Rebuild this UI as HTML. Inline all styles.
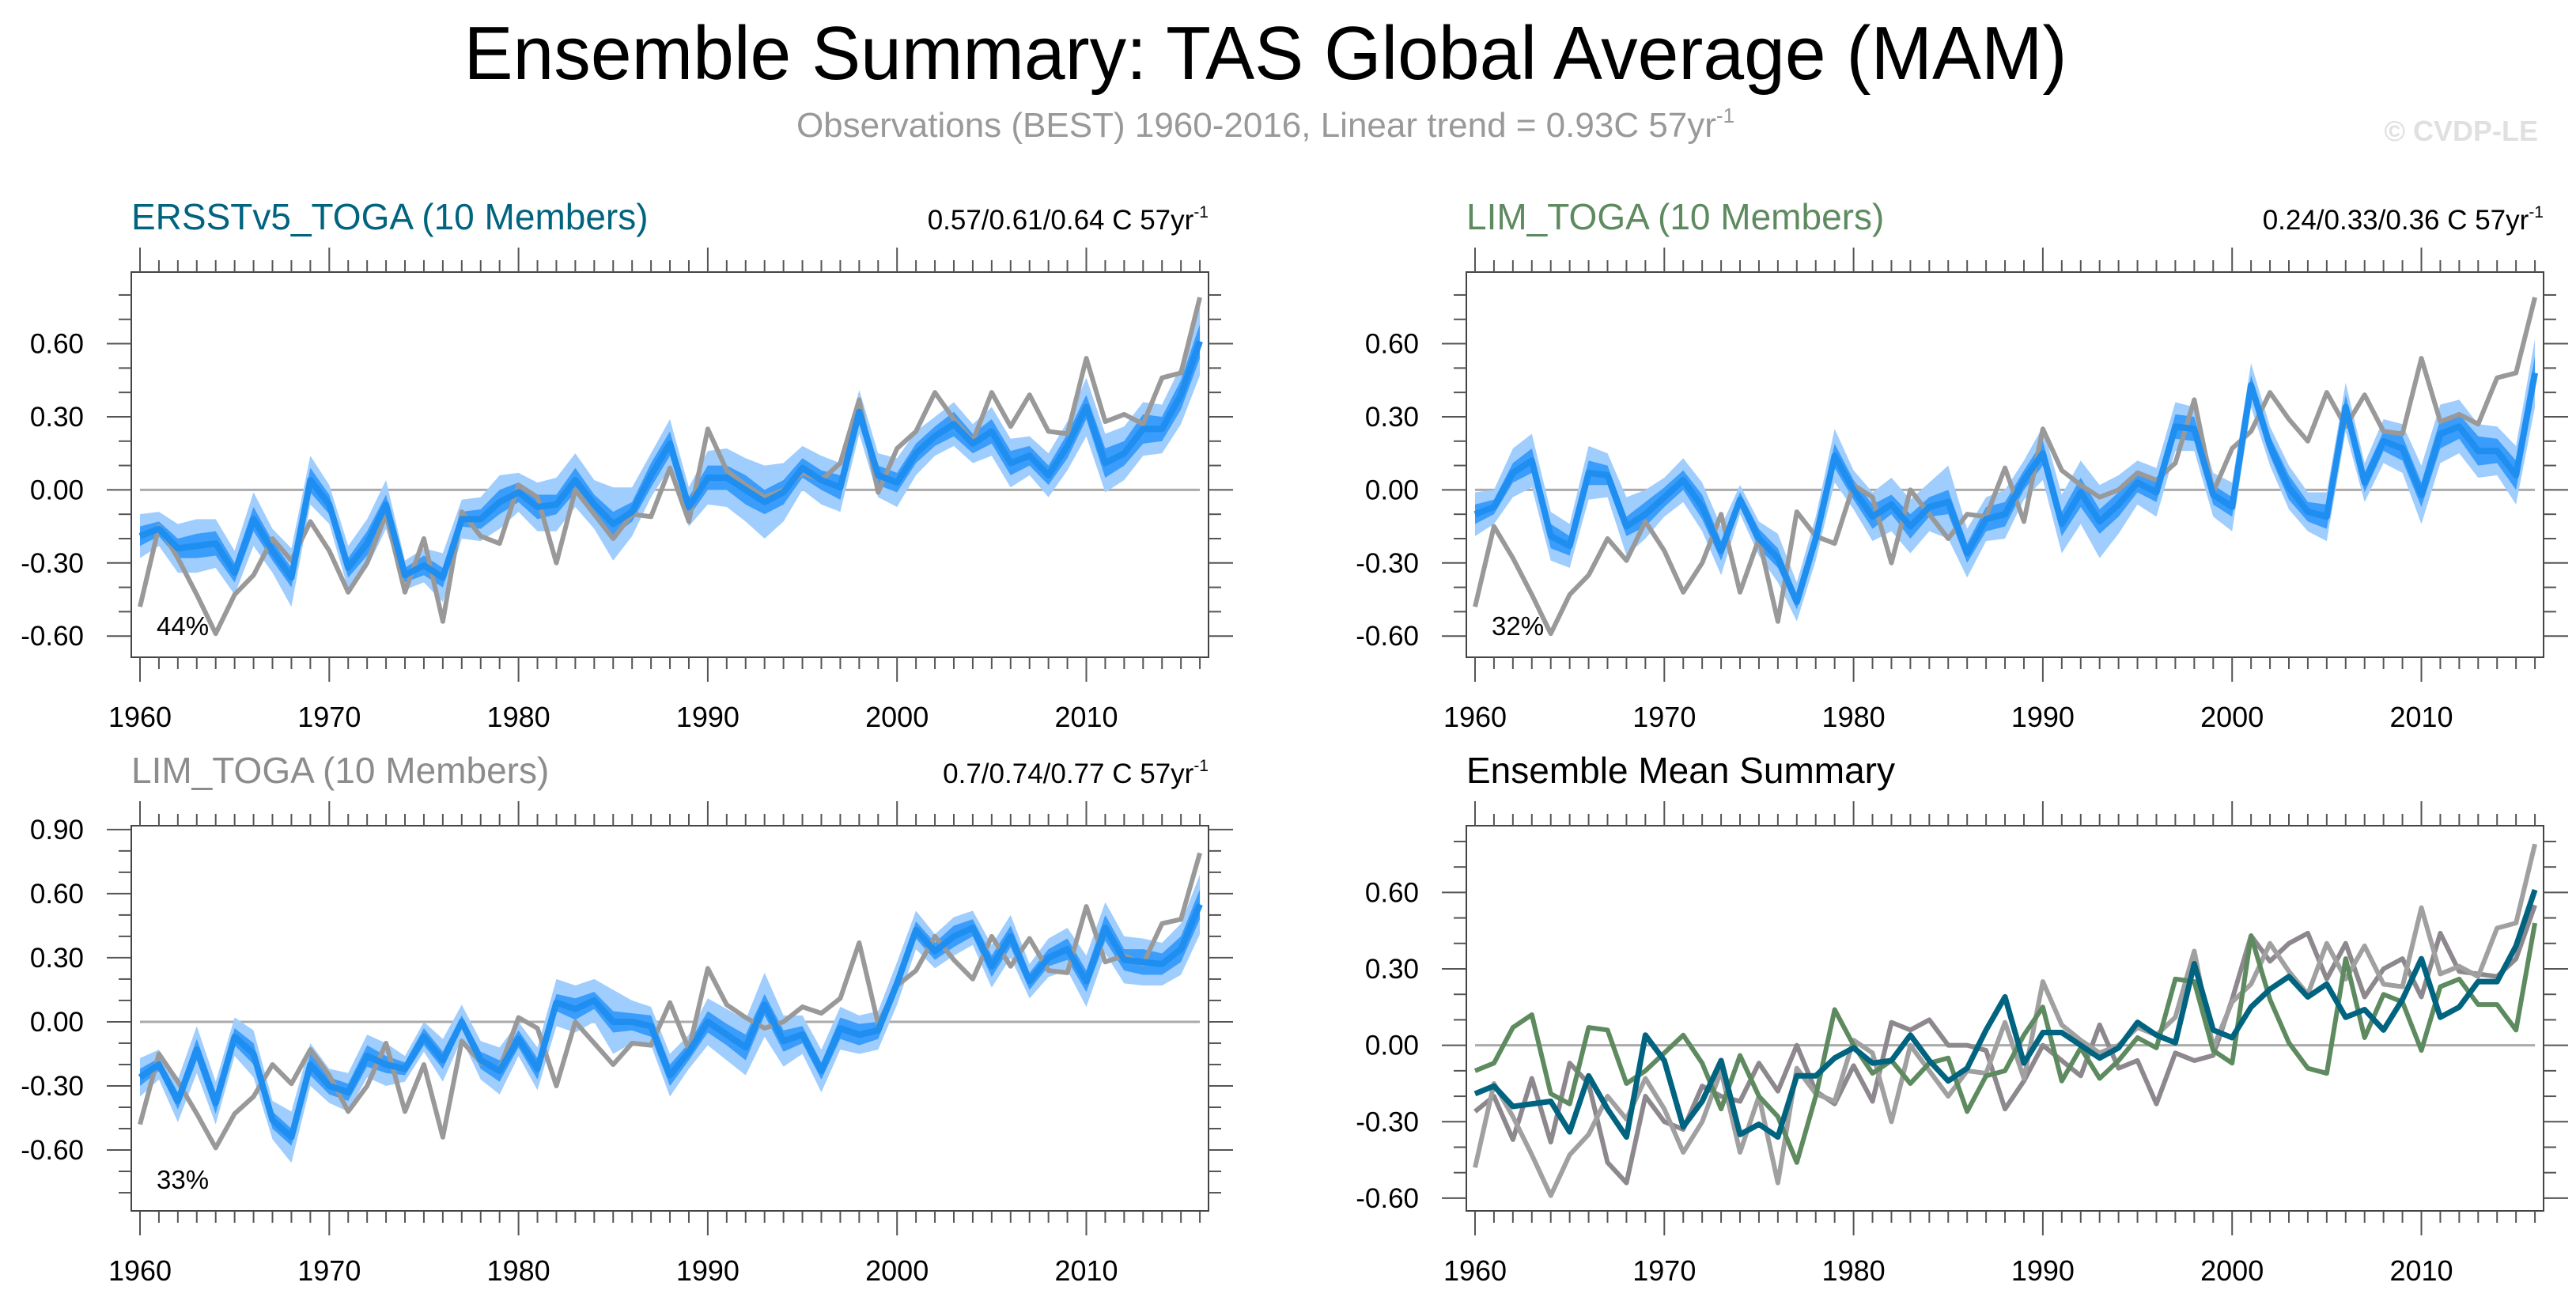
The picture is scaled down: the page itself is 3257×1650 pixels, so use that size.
<!DOCTYPE html>
<html><head><meta charset="utf-8">
<style>
html,body{margin:0;padding:0;background:#fff;}
svg{display:block;font-family:"Liberation Sans",Arial,sans-serif;}
</style></head>
<body>
<svg id="fig" width="3257" height="1650" viewBox="0 0 3257 1650" xmlns="http://www.w3.org/2000/svg">
<rect width="3257" height="1650" fill="#fff"/>
<text x="1600" y="100" font-size="96" text-anchor="middle" textLength="2027" lengthAdjust="spacingAndGlyphs" fill="#000">Ensemble Summary: TAS Global Average (MAM)</text>
<text x="1600" y="173" font-size="44" text-anchor="middle" fill="#999">Observations (BEST) 1960-2016, Linear trend = 0.93C 57yr<tspan font-size="26" dy="-18">-1</tspan></text>
<text x="3209" y="178" font-size="36" font-weight="bold" text-anchor="end" fill="#e0e0e0">© CVDP-LE</text>
<g id="panels"></g>
</svg>
<script>
// ---- data ----
const startYear = 1960;
const endYear = 2016;
const obsValues = [-0.48,-0.15,-0.28,-0.43,-0.59,-0.43,-0.35,-0.20,-0.29,-0.13,-0.25,-0.42,-0.30,-0.10,-0.42,-0.20,-0.54,-0.09,-0.19,-0.22,0.02,-0.03,-0.30,0.00,-0.10,-0.20,-0.10,-0.11,0.09,-0.13,0.25,0.08,0.02,-0.03,0.00,0.07,0.04,0.11,0.37,-0.01,0.17,0.24,0.40,0.29,0.20,0.40,0.26,0.39,0.24,0.23,0.54,0.28,0.31,0.27,0.46,0.48,0.79];
const ersstMean = [-0.19,-0.16,-0.24,-0.23,-0.22,-0.34,-0.12,-0.25,-0.36,0.04,-0.06,-0.32,-0.22,-0.06,-0.35,-0.31,-0.36,-0.12,-0.12,-0.05,-0.01,-0.07,-0.06,0.04,-0.06,-0.14,-0.09,0.06,0.19,-0.07,0.05,0.05,0.00,-0.05,-0.01,0.09,0.04,0.01,0.32,0.06,0.03,0.15,0.22,0.27,0.19,0.24,0.11,0.14,0.06,0.18,0.34,0.11,0.15,0.25,0.25,0.39,0.61];
const limMean = [-0.10,-0.07,0.07,0.12,-0.19,-0.23,0.07,0.06,-0.15,-0.10,-0.03,0.04,-0.07,-0.25,-0.04,-0.20,-0.28,-0.46,-0.20,0.14,0.00,-0.11,-0.06,-0.15,-0.07,-0.05,-0.26,-0.12,-0.10,0.04,0.15,-0.14,-0.01,-0.13,-0.06,0.03,-0.01,0.26,0.25,-0.02,-0.07,0.43,0.18,0.01,-0.09,-0.11,0.34,0.03,0.20,0.17,-0.02,0.23,0.26,0.16,0.16,0.06,0.48];
const lim2Mean = [-0.26,-0.20,-0.37,-0.13,-0.38,-0.07,-0.15,-0.46,-0.54,-0.20,-0.30,-0.33,-0.16,-0.20,-0.22,-0.07,-0.18,0.00,-0.18,-0.23,-0.08,-0.22,0.09,0.06,0.10,0.00,0.00,-0.02,-0.25,-0.14,0.00,-0.06,-0.12,0.08,-0.09,-0.06,-0.23,-0.03,-0.06,-0.04,0.18,0.43,0.33,0.40,0.44,0.26,0.40,0.19,0.30,0.34,0.19,0.44,0.29,0.28,0.27,0.34,0.55];
const innerSpread = [0.04,0.03,0.04,0.05,0.05,0.04,0.05,0.04,0.04,0.05,0.04,0.04,0.05,0.04,0.03,0.04,0.04,0.03,0.04,0.05,0.04,0.05,0.04,0.05,0.04,0.05,0.04,0.05,0.05,0.04,0.05,0.05,0.06,0.05,0.05,0.04,0.04,0.05,0.05,0.04,0.04,0.04,0.04,0.05,0.04,0.05,0.05,0.04,0.04,0.05,0.05,0.06,0.05,0.06,0.05,0.06,0.07];
const outerSpread = [0.09,0.07,0.10,0.11,0.10,0.09,0.11,0.09,0.12,0.10,0.08,0.09,0.10,0.10,0.06,0.07,0.10,0.08,0.09,0.11,0.08,0.10,0.11,0.11,0.10,0.15,0.10,0.09,0.10,0.08,0.11,0.12,0.13,0.15,0.12,0.09,0.10,0.10,0.09,0.09,0.10,0.09,0.08,0.09,0.08,0.10,0.10,0.08,0.09,0.10,0.12,0.12,0.11,0.11,0.10,0.12,0.14];
const ersstTicks = [-0.60,-0.30,0.00,0.30,0.60];
const limTicks = [-0.60,-0.30,0.00,0.30,0.60];
const lim2Ticks = [-0.60,-0.30,0.00,0.30,0.60,0.90];
const summaryTicks = [-0.60,-0.30,0.00,0.30,0.60];
const yearTicks = [1960,1970,1980,1990,2000,2010];

// ---- layout ----
const NS = "http://www.w3.org/2000/svg";
const root = document.getElementById('panels');
function el(tag, attrs, parent){
  const e = document.createElementNS(NS, tag);
  for (const k in attrs) e.setAttribute(k, attrs[k]);
  (parent||root).appendChild(e);
  return e;
}
const BW = 1362, BH = 487;
function years(){ const a=[]; for(let y=startYear;y<=endYear;y++) a.push(y); return a; }
const yrs = years();

function drawPanel(p){
  const g = el('g', {});
  
  
  const xs = yr => p.bx + 11 + (yr - startYear) * 23.93;
  const ys = v => p.by + (p.ymax - v) / (p.ymax - p.ymin) * BH;
  const t = el('text', {x:p.bx, y:p.by-54, 'font-size':46, fill:p.titleColor}, g);
  t.textContent = p.title;
  
  
  if (p.trend){
    const tr = el('text', {x:p.bx+BW, y:p.by-54, 'font-size':35, 'text-anchor':'end', fill:'#000'}, g);
    tr.textContent = p.trend;
    const sup = el('tspan', {'font-size':21, dy:-15}, tr);
    sup.textContent = '-1';
    
    
  }
  function band(spread, color, nm){
    const pts = [];
    yrs.forEach((y,i)=>pts.push(xs(y)+','+ys(p.mean[i]+spread[i])));
    for (let i=yrs.length-1;i>=0;i--) pts.push(xs(yrs[i])+','+ys(p.mean[i]-spread[i]));
    const b = el('polygon', {points:pts.join(' '), fill:color}, g);
    
    
  }
  const z = el('line', {x1:xs(startYear), x2:xs(endYear), y1:ys(0), y2:ys(0), stroke:'#aaa', 'stroke-width':3}, g);
  
  
  if (p.mean){
    band(outerSpread, '#9fcdfd', 'outer-spread-band');
    band(innerSpread, '#3a9cfb', 'inner-spread-band');
  }
  function line(vals, color, w, nm){
    const pts = yrs.map((y,i)=>xs(y)+','+ys(vals[i])).join(' ');
    const l = el('polyline', {points:pts, fill:'none', stroke:color, 'stroke-width':w, 'stroke-linejoin':'round'}, g);
    
    
  }
  if (p.mean){
    line(obsValues, '#999', 6, 'observations-line');
    line(p.mean, '#1e8ef0', 8, 'ensemble-mean-line');
  } else {
    line(lim2Mean, '#8d888d', 6, 'lim-toga-2-mean-line');
    line(obsValues, '#a0a0a0', 6, 'observations-line');
    line(limMean, '#5e8a5f', 6, 'lim-toga-mean-line');
    line(ersstMean, '#00637f', 7, 'ersstv5-toga-mean-line');
  }
  const box = el('rect', {x:p.bx, y:p.by, width:BW, height:BH, fill:'none', stroke:'#444', 'stroke-width':2}, g);
  
  
  yrs.forEach(y=>{
    const major = y % 10 === 0;
    const len = major ? 31 : 15;
    el('line', {x1:xs(y), x2:xs(y), y1:p.by, y2:p.by-len, stroke:'#555', 'stroke-width':2}, g);
    el('line', {x1:xs(y), x2:xs(y), y1:p.by+BH, y2:p.by+BH+len, stroke:'#555', 'stroke-width':2}, g);
  });
  yearTicks.forEach(y=>{
    const tl = el('text', {x:xs(y), y:p.by+BH+88, 'font-size':36, 'text-anchor':'middle'}, g);
    tl.textContent = String(y);
    
    
  });
  const lo = Math.ceil(p.ymin*10-1e-6), hi = Math.floor(p.ymax*10+1e-6);
  for (let k=lo;k<=hi;k++){
    const v = k/10, major = (k % 3 === 0);
    const len = major ? 31 : 16;
    el('line', {x1:p.bx, x2:p.bx-len, y1:ys(v), y2:ys(v), stroke:'#555', 'stroke-width':2}, g);
    el('line', {x1:p.bx+BW, x2:p.bx+BW+len, y1:ys(v), y2:ys(v), stroke:'#555', 'stroke-width':2}, g);
  }
  p.ticks.forEach(v=>{
    const tl = el('text', {x:p.bx-60, y:ys(v)+12, 'font-size':35, 'text-anchor':'end'}, g);
    tl.textContent = v.toFixed(2);
    
    
  });
  if (p.pct){
    const pc = el('text', {x:p.bx+32, y:p.by+BH-28, 'font-size':33}, g);
    pc.textContent = p.pct;
    
    
  }
}

drawPanel({name:'ersstv5-toga-panel', bx:166, by:344, ymin:-0.687, ymax:0.894, title:'ERSSTv5_TOGA (10 Members)', titleColor:'#00637f', trend:'0.57/0.61/0.64 C 57yr', mean:ersstMean, ticks:ersstTicks, pct:'44%'});
drawPanel({name:'lim-toga-panel', bx:1854, by:344, ymin:-0.687, ymax:0.894, title:'LIM_TOGA (10 Members)', titleColor:'#5e8a5f', trend:'0.24/0.33/0.36 C 57yr', mean:limMean, ticks:limTicks, pct:'32%'});
drawPanel({name:'lim-toga-2-panel', bx:166, by:1044, ymin:-0.885, ymax:0.918, title:'LIM_TOGA (10 Members)', titleColor:'#8c8c8c', trend:'0.7/0.74/0.77 C 57yr', mean:lim2Mean, ticks:lim2Ticks, pct:'33%'});
drawPanel({name:'ensemble-mean-summary-panel', bx:1854, by:1044, ymin:-0.65, ymax:0.862, title:'Ensemble Mean Summary', titleColor:'#000', trend:null, mean:null, ticks:summaryTicks, pct:null});
</script>
</body></html>
